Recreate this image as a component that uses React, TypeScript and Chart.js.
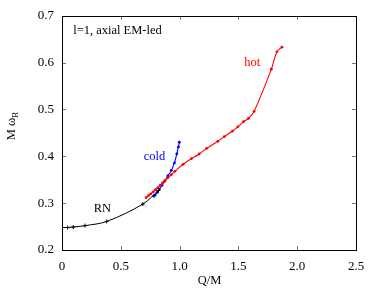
import React, { useEffect, useRef } from "react";
import { Chart, registerables } from "chart.js";

Chart.register(...registerables);

// RN branch (black)
const rnQ = [0, 0.048, 0.096, 0.196, 0.38, 0.687, 0.82];
const rnW = [0.248, 0.248, 0.249, 0.252, 0.261, 0.298, 0.327];

// cold branch (blue)
const coldQ = [0.78, 0.79, 0.81, 0.828, 0.85, 0.874, 0.9, 0.93, 0.956, 0.976, 0.99, 0.998];
const coldW = [0.315, 0.317, 0.323, 0.33, 0.338, 0.347, 0.358, 0.37, 0.386, 0.405, 0.42, 0.43];

// hot branch (red)
const hotQ = [0.715, 0.735, 0.755, 0.775, 0.795, 0.815, 0.835, 0.855, 0.875, 0.9, 0.93, 0.96, 1.03, 1.1, 1.166, 1.23, 1.325, 1.38, 1.45, 1.495, 1.543, 1.586, 1.634, 1.78, 1.827, 1.87];
const hotW = [0.312, 0.316, 0.32, 0.324, 0.329, 0.333, 0.338, 0.343, 0.348, 0.354, 0.361, 0.368, 0.383, 0.395, 0.405, 0.417, 0.432, 0.442, 0.454, 0.463, 0.474, 0.481, 0.496, 0.586, 0.623, 0.633];

const xTicks = [0, 0.5, 1, 1.5, 2, 2.5];
const yTicks = [0.2, 0.3, 0.4, 0.5, 0.6, 0.7];

const FONT = "'Liberation Serif', 'DejaVu Serif', serif";

const toPts = (xs: number[], ys: number[]) => xs.map((x, i) => ({ x, y: ys[i] }));

const framePlugin = {
  id: "frame",
  afterDraw(chart: any) {
    const { ctx, chartArea: a, scales } = chart;
    const xs = scales.x;
    const ys = scales.y;
    ctx.save();
    // inward ticks
    ctx.strokeStyle = "#777";
    ctx.lineWidth = 1;
    ctx.beginPath();
    xTicks.forEach((v) => {
      const px = Math.round(xs.getPixelForValue(v)) + 0.5;
      ctx.moveTo(px, a.bottom);
      ctx.lineTo(px, a.bottom - 4);
      ctx.moveTo(px, a.top);
      ctx.lineTo(px, a.top + 4);
    });
    yTicks.forEach((v) => {
      const py = Math.round(ys.getPixelForValue(v)) + 0.5;
      ctx.moveTo(a.left, py);
      ctx.lineTo(a.left + 4, py);
      ctx.moveTo(a.right, py);
      ctx.lineTo(a.right - 4, py);
    });
    ctx.stroke();
    // frame
    ctx.strokeStyle = "#000";
    ctx.strokeRect(Math.round(a.left) + 0.5, Math.round(a.top) + 0.5, Math.round(a.right - a.left), Math.round(a.bottom - a.top));

    // annotations
    const label = (t: string, x: number, y: number, color: string, align: CanvasTextAlign = "left") => {
      ctx.fillStyle = color;
      ctx.font = `12.5px ${FONT}`;
      ctx.textAlign = align;
      ctx.textBaseline = "middle";
      ctx.fillText(t, xs.getPixelForValue(x), ys.getPixelForValue(y));
    };
    label("l=1, axial EM-led", 0.095, 0.668, "#000");
    label("hot", 1.55, 0.6, "#ff0000");
    label("cold", 0.695, 0.399, "#0000ff");
    label("RN", 0.27, 0.288, "#000");

    // x title
    ctx.fillStyle = "#000";
    ctx.font = `12.5px ${FONT}`;
    ctx.textAlign = "center";
    ctx.textBaseline = "middle";
    ctx.fillText("Q/M", (a.left + a.right) / 2 + 0.5, 281);

    // y title, rotated with subscript
    ctx.save();
    ctx.translate(15, 126);
    ctx.rotate(-Math.PI / 2);
    ctx.font = `12.5px ${FONT}`;
    const main = "M ω";
    const wMain = ctx.measureText(main).width;
    ctx.font = `9px ${FONT}`;
    const wSub = ctx.measureText("R").width;
    const total = wMain + wSub;
    ctx.textAlign = "left";
    ctx.textBaseline = "alphabetic";
    ctx.font = `12.5px ${FONT}`;
    ctx.fillText(main, -total / 2, 0);
    ctx.font = `9px ${FONT}`;
    ctx.fillText("R", -total / 2 + wMain, 3);
    ctx.restore();

    ctx.restore();
  },
};

export default function App() {
  const ref = useRef<HTMLCanvasElement>(null);
  useEffect(() => {
    document.body.style.margin = "0";
    const canvas = ref.current!;
    const chart = new Chart(canvas, {
      type: "scatter",
      data: {
        datasets: [
          {
            data: toPts(rnQ, rnW),
            showLine: true,
            borderColor: "#000",
            backgroundColor: "#000",
            borderWidth: 1,
            pointStyle: "cross",
            pointRadius: 2,
            pointBorderWidth: 1,
            tension: 0.35,
          },
          {
            data: toPts(hotQ, hotW),
            showLine: true,
            borderColor: "#ff0000",
            backgroundColor: "#ff0000",
            borderWidth: 1.1,
            pointRadius: 1.4,
            pointBorderWidth: 0,
            tension: 0.35,
          },
          {
            data: toPts(coldQ, coldW),
            showLine: true,
            borderColor: "#0000ff",
            backgroundColor: "#0000ff",
            borderWidth: 1.1,
            pointRadius: 1.4,
            pointBorderWidth: 0,
            tension: 0.35,
          },
        ],
      },
      options: {
        animation: false,
        responsive: false,
        maintainAspectRatio: false,
        layout: { padding: { top: 12, right: 22, left: 0, bottom: 0 } },
        plugins: { legend: { display: false }, tooltip: { enabled: false } },
        scales: {
          x: {
            type: "linear",
            min: 0,
            max: 2.5,
            afterBuildTicks: (s: any) => {
              s.ticks = xTicks.map((v) => ({ value: v }));
            },
            afterFit: (s: any) => {
              s.height = 41;
            },
            grid: { display: false, drawTicks: false },
            border: { display: false },
            ticks: { color: "#000", padding: 9, font: { family: FONT, size: 13 }, maxRotation: 0 },
          },
          y: {
            type: "linear",
            min: 0.2,
            max: 0.7,
            afterBuildTicks: (s: any) => {
              s.ticks = yTicks.map((v) => ({ value: v }));
            },
            afterFit: (s: any) => {
              s.width = 62;
            },
            grid: { display: false, drawTicks: false },
            border: { display: false },
            ticks: {
              color: "#000",
              padding: 8,
              font: { family: FONT, size: 13 },
              callback: (v: any) => Number(v).toFixed(1),
            },
          },
        },
      },
      plugins: [framePlugin],
    });
    return () => chart.destroy();
  }, []);
  return (
    <div style={{ position: "absolute", left: 0, top: 0, width: 378, height: 291 }}>
      <canvas ref={ref} width={378} height={291} style={{ width: 378, height: 291 }} />
    </div>
  );
}
